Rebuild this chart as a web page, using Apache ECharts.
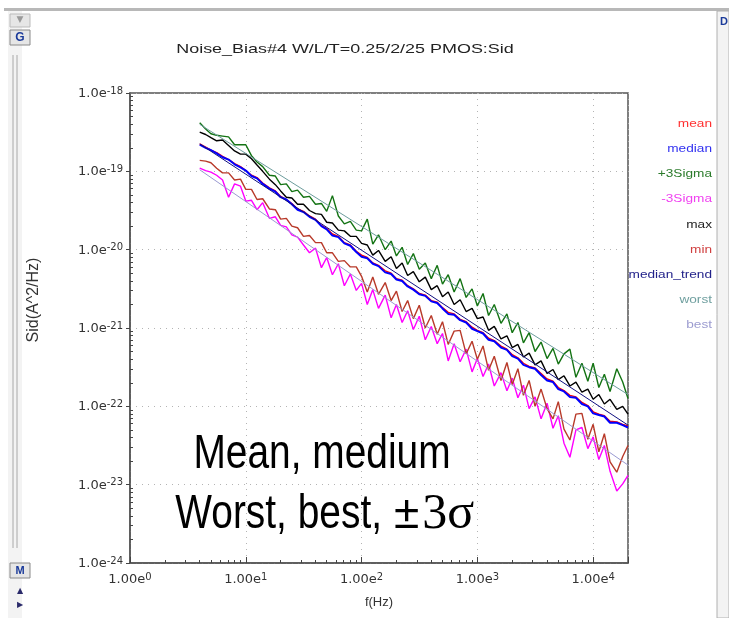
<!DOCTYPE html>
<html lang="en">
<head>
<meta charset="UTF-8">
<title>Noise_Bias#4 PMOS:Sid</title>
<script src="https://cdn.jsdelivr.net/npm/echarts@6/dist/echarts.min.js"></script>
<style>
  html, body { margin: 0; padding: 0; background: #fff; }
  #chart { width: 729px; height: 618px; }
</style>
</head>
<body>
<div id="chart"></div>
<script>
// frequency points (Hz) shared by the measured curves
var freq = [4, 4.5, 5, 5.6, 6.3, 7.1, 8, 9,
  10, 11.2, 12.5, 14, 16, 18, 20, 22.4, 25, 28, 31.5, 35.5, 40, 45, 50, 56, 63, 71, 80, 90,
  100, 112, 125, 140, 160, 180, 200, 224, 250, 280, 315, 355, 400, 450, 500, 560, 630, 710, 800, 900,
  1000, 1120, 1250, 1400, 1600, 1800, 2000, 2240, 2500, 2800, 3150, 3550, 4000, 4500, 5000, 5600, 6300, 7100, 8000, 9000,
  10000, 11200, 12500, 14000, 16000, 18000, 20000];

// Sid, kept as log10(A^2/Hz)
var meanLog = [-18.65, -18.69, -18.73, -18.76, -18.81, -18.85, -18.90, -18.94, -18.99, -19.05,
  -19.08, -19.15, -19.21, -19.25, -19.32, -19.36, -19.41, -19.48, -19.51, -19.57,
  -19.61, -19.69, -19.73, -19.80, -19.83, -19.91, -19.94, -20.02, -20.07, -20.10,
  -20.17, -20.20, -20.27, -20.30, -20.37, -20.39, -20.46, -20.50, -20.56, -20.58,
  -20.65, -20.67, -20.74, -20.80, -20.82, -20.89, -20.92, -20.99, -21.03, -21.06,
  -21.13, -21.16, -21.23, -21.27, -21.34, -21.38, -21.45, -21.49, -21.51, -21.58,
  -21.65, -21.68, -21.76, -21.80, -21.86, -21.88, -21.95, -21.99, -22.07, -22.10,
  -22.12, -22.19, -22.20, -22.23, -22.25];
var medianLog = [-18.66, -18.70, -18.73, -18.77, -18.82, -18.85, -18.91, -18.95, -18.99, -19.06,
  -19.09, -19.16, -19.22, -19.26, -19.33, -19.36, -19.42, -19.49, -19.52, -19.58,
  -19.62, -19.70, -19.74, -19.82, -19.84, -19.92, -19.95, -20.03, -20.09, -20.11,
  -20.18, -20.21, -20.29, -20.31, -20.38, -20.40, -20.47, -20.51, -20.57, -20.59,
  -20.66, -20.68, -20.75, -20.82, -20.83, -20.90, -20.93, -21.01, -21.04, -21.07,
  -21.15, -21.17, -21.25, -21.28, -21.36, -21.39, -21.47, -21.50, -21.52, -21.60,
  -21.67, -21.69, -21.78, -21.81, -21.88, -21.89, -21.97, -22.00, -22.09, -22.11,
  -22.13, -22.21, -22.21, -22.24, -22.27];
var plus3Log = [-18.38, -18.46, -18.52, -18.54, -18.55, -18.56, -18.66, -18.66, -18.66, -18.80,
  -18.88, -18.94, -19.05, -19.06, -19.17, -19.16, -19.26, -19.24, -19.33, -19.32,
  -19.42, -19.41, -19.51, -19.31, -19.57, -19.67, -19.64, -19.75, -19.76, -19.61,
  -19.93, -19.81, -20.00, -19.89, -20.08, -19.97, -20.19, -20.05, -20.25, -20.17,
  -20.37, -20.20, -20.44, -20.32, -20.54, -20.37, -20.61, -20.50, -20.72, -20.56,
  -20.84, -20.70, -20.94, -20.82, -21.06, -20.93, -21.19, -21.06, -21.30, -21.18,
  -21.39, -21.26, -21.46, -21.33, -21.27, -21.63, -21.45, -21.68, -21.45, -21.76,
  -21.59, -21.81, -21.52, -21.69, -21.90];
var minus3Log = [-18.96, -18.99, -19.01, -19.05, -19.11, -19.33, -19.16, -19.19, -19.38, -19.37,
  -19.49, -19.40, -19.60, -19.58, -19.69, -19.71, -19.81, -19.84, -19.94, -20.04,
  -19.98, -20.23, -20.10, -20.32, -20.18, -20.46, -20.31, -20.52, -20.43, -20.70,
  -20.51, -20.75, -20.58, -20.87, -20.70, -20.93, -20.78, -21.02, -20.85, -21.15,
  -20.98, -21.20, -21.07, -21.42, -21.20, -21.43, -21.27, -21.56, -21.39, -21.62,
  -21.46, -21.74, -21.57, -21.80, -21.64, -21.89, -21.73, -22.03, -21.88, -22.16,
  -21.96, -22.28, -22.12, -22.47, -22.65, -22.30, -22.27, -22.54, -22.39, -22.68,
  -22.50, -22.83, -23.08, -22.99, -22.88];
var maxLog = [-18.50, -18.53, -18.57, -18.61, -18.60, -18.67, -18.74, -18.78, -18.78, -18.84,
  -18.92, -19.00, -19.10, -19.17, -19.25, -19.33, -19.34, -19.42, -19.42, -19.50,
  -19.54, -19.55, -19.65, -19.66, -19.75, -19.76, -19.83, -19.83, -19.92, -19.94,
  -20.07, -20.01, -20.15, -20.09, -20.24, -20.17, -20.33, -20.28, -20.41, -20.35,
  -20.51, -20.46, -20.60, -20.54, -20.70, -20.64, -20.79, -20.75, -20.88, -20.86,
  -21.03, -20.98, -21.14, -21.10, -21.25, -21.21, -21.37, -21.32, -21.47, -21.42,
  -21.58, -21.53, -21.66, -21.61, -21.74, -21.69, -21.82, -21.78, -21.91, -21.85,
  -21.97, -21.91, -22.04, -22.00, -22.10];
var minLog = [-18.86, -18.87, -18.89, -18.96, -19.02, -19.02, -19.11, -19.10, -19.23, -19.23,
  -19.36, -19.35, -19.48, -19.49, -19.61, -19.60, -19.70, -19.72, -19.83, -19.82,
  -19.91, -19.91, -20.04, -20.04, -20.15, -20.14, -20.22, -20.22, -20.34, -20.54,
  -20.35, -20.57, -20.42, -20.65, -20.53, -20.79, -20.65, -20.88, -20.71, -21.00,
  -20.84, -21.08, -20.92, -21.21, -21.04, -21.03, -21.33, -21.17, -21.40, -21.23,
  -21.54, -21.36, -21.67, -21.44, -21.72, -21.52, -21.86, -21.67, -22.00, -21.78,
  -22.03, -22.16, -21.94, -22.29, -22.43, -22.10, -22.09, -22.42, -22.23, -22.58,
  -22.35, -22.71, -22.84, -22.64, -22.50];

// straight fitted lines, end points only
var trendFreq = [4, 20000];
var medianTrendLog = [-18.65, -22.24];
var worstLog = [-18.40, -21.85];
var bestLog = [-18.98, -22.75];

var seriesNames = ['mean', 'median', '+3Sigma', '-3Sigma', 'max', 'min', 'median_trend', 'worst', 'best'];
var seriesLogs = [meanLog, medianLog, plus3Log, minus3Log, maxLog, minLog, medianTrendLog, worstLog, bestLog];
var lineColors = ['#ff0000', '#0000ff', '#137313', '#ff00ff', '#000000', '#b83a2a', '#101080', '#6c9c9c', '#9a9ad2'];
var lineWidths = [1.4, 2, 1.4, 1.4, 1.4, 1.4, 1, 1, 1];
var legendColors = ['#ff3030', '#3030f0', '#2a7a2a', '#f040f0', '#222222', '#d04040', '#22228a', '#6f9f9f', '#9c9cd0'];

// the log scale loses values as small as 1e-24, so y is plotted in units of 1e-24 A^2/Hz
var Y_UNIT = -24;

// axis ticks
var minorX = [];
[1, 10, 100, 1000, 10000].forEach(function (d) {
  for (var k = 2; k <= 9; k++) if (k * d <= 20000) minorX.push(k * d);
});
var minorY = [];
[1, 10, 100, 1000, 10000, 100000].forEach(function (d) {
  for (var k = 2; k <= 9; k++) minorY.push(k * d);
});

var chart = echarts.init(document.getElementById('chart'));

function pairs(fs, logs) {
  return logs.map(function (v, i) { return [fs[i], Math.pow(10, v - Y_UNIT)]; });
}
function decade(v) {
  var p = Math.log(v) / Math.LN10;
  return Math.abs(p - Math.round(p)) < 1e-6 ? Math.round(p) : null;
}

var series = seriesNames.map(function (name, i) {
  var fs = seriesLogs[i].length === 2 ? trendFreq : freq;
  return {
    name: name,
    type: 'line',
    xAxisIndex: 0,
    yAxisIndex: 0,
    data: pairs(fs, seriesLogs[i]),
    showSymbol: false,
    symbol: 'none',
    lineStyle: { color: lineColors[i], width: lineWidths[i] },
    itemStyle: { color: lineColors[i] },
    z: 2 + i
  };
});

var tickFont = 'DejaVu Sans';
var labelRich = {
  b: { fontFamily: tickFont, fontSize: 13, color: '#333', lineHeight: 14, verticalAlign: 'bottom' },
  s: { fontFamily: tickFont, fontSize: 10, color: '#333', lineHeight: 14, verticalAlign: 'top' }
};

var legendTexts = seriesNames.map(function (name, i) {
  return {
    type: 'text',
    x: 712,
    y: 124 + i * 25.2,
    scaleX: 1.3,
    style: {
      text: name,
      font: '10.5px "Liberation Sans", Arial, sans-serif',
      fill: legendColors[i],
      textAlign: 'right',
      textVerticalAlign: 'middle'
    }
  };
});

var frame = [
  { type: 'rect', shape: { x: 4, y: 8, width: 725, height: 3 }, style: { fill: '#b8b8b8' } },
  { type: 'rect', shape: { x: 8, y: 11, width: 14, height: 607 }, style: { fill: '#f3f3f3' } },
  { type: 'rect', shape: { x: 10, y: 14, width: 20, height: 13 }, style: { fill: '#e6e6e6', stroke: '#bbbbbb' } },
  { type: 'text', x: 20, y: 20, style: { text: '\u25BC', font: '9px "DejaVu Sans"', fill: '#9a9a9a', textAlign: 'center', textVerticalAlign: 'middle' } },
  { type: 'rect', shape: { x: 10, y: 30, width: 20, height: 15 }, style: { fill: '#e6e6e6', stroke: '#8a8a8a' } },
  { type: 'text', x: 20, y: 38, style: { text: 'G', font: 'bold 12px "Liberation Sans"', fill: '#1a3a9a', textAlign: 'center', textVerticalAlign: 'middle' } },
  { type: 'line', shape: { x1: 13, y1: 55, x2: 13, y2: 548 }, style: { stroke: '#a8a8a8', lineWidth: 1 } },
  { type: 'line', shape: { x1: 17, y1: 55, x2: 17, y2: 548 }, style: { stroke: '#a8a8a8', lineWidth: 1 } },
  { type: 'rect', shape: { x: 10, y: 563, width: 20, height: 15 }, style: { fill: '#e6e6e6', stroke: '#8a8a8a' } },
  { type: 'text', x: 20, y: 571, style: { text: 'M', font: 'bold 11px "Liberation Sans"', fill: '#1a3a9a', textAlign: 'center', textVerticalAlign: 'middle' } },
  { type: 'text', x: 20, y: 591, style: { text: '\u25B2', font: '8px "DejaVu Sans"', fill: '#2a2a6a', textAlign: 'center', textVerticalAlign: 'middle' } },
  { type: 'text', x: 20, y: 605, style: { text: '\u25B6', font: '8px "DejaVu Sans"', fill: '#2a2a6a', textAlign: 'center', textVerticalAlign: 'middle' } },
  { type: 'rect', shape: { x: 717, y: 11, width: 12, height: 607 }, style: { fill: '#f3f3f3', stroke: '#b0b0b0' } },
  { type: 'text', x: 720, y: 22, style: { text: 'D', font: 'bold 11px "Liberation Sans"', fill: '#1a3a9a', textVerticalAlign: 'middle' } }
];

var notes = [
  {
    type: 'text', x: 322, y: 455, scaleX: 0.81, z: 100,
    style: {
      text: 'Mean, medium',
      font: '48px "Liberation Sans", Arial, sans-serif',
      fill: '#000', textAlign: 'center', textVerticalAlign: 'middle'
    }
  },
  {
    type: 'text', x: 382, y: 515, scaleX: 0.81, z: 100,
    style: {
      text: 'Worst, best,',
      font: '48px "Liberation Sans", Arial, sans-serif',
      fill: '#000', textAlign: 'right', textVerticalAlign: 'middle'
    }
  },
  {
    type: 'text', x: 394, y: 515, z: 100,
    style: {
      text: '{p|\u00B1}{q|3\u03C3}',
      rich: {
        p: { fontFamily: 'Liberation Sans', fontSize: 46, fill: '#000', padding: [0, 3, 0, 0] },
        q: { fontFamily: 'Liberation Serif', fontSize: 50, fill: '#000' }
      },
      fill: '#000', textAlign: 'left', textVerticalAlign: 'middle'
    }
  },
  {
    type: 'text', x: 345, y: 49, scaleX: 1.38,
    style: {
      text: 'Noise_Bias#4 W/L/T=0.25/2/25 PMOS:Sid',
      font: '13px "Liberation Sans", Arial, sans-serif',
      fill: '#222', textAlign: 'center', textVerticalAlign: 'middle'
    }
  }
];

var option = {
  backgroundColor: '#fff',
  animation: false,
  grid: {
    left: 130, right: 101, top: 93, bottom: 55,
    show: true, borderColor: '#555', borderWidth: 1.5,
    outerBoundsMode: 'none'
  },
  xAxis: [{
    type: 'log', logBase: 10, min: 1, max: 20000, splitNumber: 5,
    name: 'f(Hz)', nameLocation: 'middle', nameGap: 33,
    nameTextStyle: { fontFamily: 'Liberation Sans', fontSize: 13, color: '#333' },
    axisLine: { show: true, lineStyle: { color: '#555', width: 1.5 } },
    axisTick: { show: true, inside: true, length: 6, lineStyle: { color: '#444' } },
    axisLabel: {
      margin: 9, rich: labelRich, showMinLabel: true, hideOverlap: false,
      formatter: function (v) {
        var p = decade(v);
        return p === null ? '' : '{b|1.00e}{s|' + p + '}';
      }
    },
    splitLine: { show: true, lineStyle: { color: '#b4b4b4', type: [1, 5], width: 1 } }
  }, {
    type: 'log', logBase: 10, min: 1, max: 20000, position: 'bottom',
    axisLine: { show: false },
    axisLabel: { show: false },
    splitLine: { show: false },
    axisTick: { show: true, inside: true, length: 3, customValues: minorX, lineStyle: { color: '#444' } }
  }],
  yAxis: [{
    type: 'log', logBase: 10, min: 1, max: 1e6, splitNumber: 6,
    name: 'Sid(A^2/Hz)', nameLocation: 'middle', nameGap: 88, nameRotate: 90,
    nameTextStyle: { fontFamily: 'Liberation Sans', fontSize: 16, color: '#333', padding: [0, 0, 0, 56] },
    axisLine: { show: true, lineStyle: { color: '#555', width: 1.5 } },
    axisTick: { show: true, inside: false, length: 4, lineStyle: { color: '#444' } },
    axisLabel: {
      margin: 7, rich: labelRich, showMinLabel: true, showMaxLabel: true, hideOverlap: false,
      formatter: function (v) {
        var p = decade(v);
        return p === null ? '' : '{b|1.0e}{s|' + (p + Y_UNIT) + '}';
      }
    },
    splitLine: { show: true, lineStyle: { color: '#b4b4b4', type: [1, 5], width: 1 } }
  }, {
    type: 'log', logBase: 10, min: 1, max: 1e6, position: 'left',
    axisLine: { show: false },
    axisLabel: { show: false },
    splitLine: { show: false },
    axisTick: { show: true, inside: true, length: 3, customValues: minorY, lineStyle: { color: '#444' } }
  }],
  graphic: frame.concat(legendTexts, notes),
  series: series
};

chart.setOption(option);
</script>
</body>
</html>
